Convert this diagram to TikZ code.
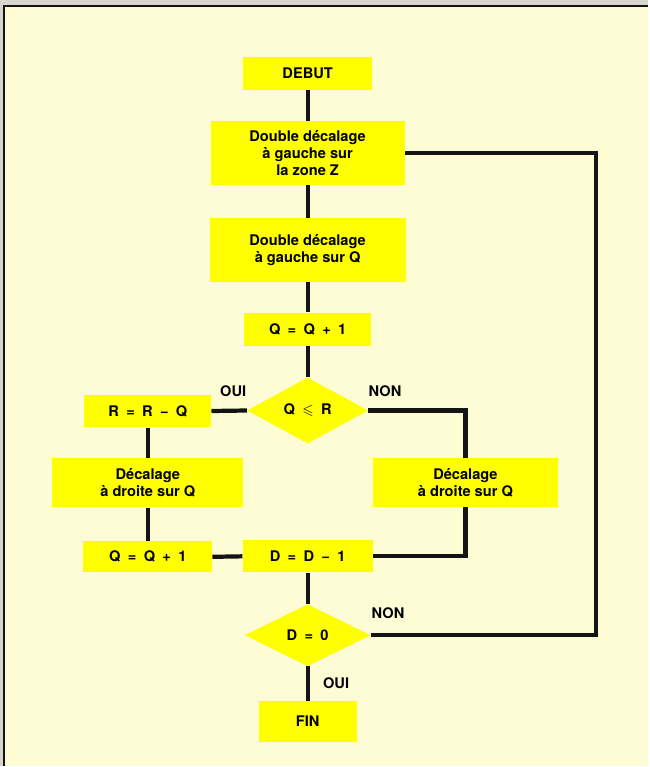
\documentclass[tikz,border=0pt]{standalone}
\usepackage{fontspec}
\setmainfont{TeX Gyre Heros}
\usepackage{amssymb}
\usetikzlibrary{shapes.geometric}
\definecolor{boxY}{HTML}{FFFF00}
\definecolor{paperBg}{HTML}{FEFCD4}
\definecolor{scanGray}{HTML}{D6D6CE}
\definecolor{inkK}{HTML}{141414}

\begin{document}
\begin{tikzpicture}[x=0.03cm, y=-0.03cm,
    font=\fontsize{12.5}{14.5}\selectfont\bfseries,
    box/.style={fill=boxY, align=center, inner sep=0pt},
    formula/.style={font={\fontsize{12.5}{14.5}\selectfont\bfseries\spaceskip 0.5em\relax}},
    decision/.style={diamond, fill=boxY, inner sep=0pt, aspect=1.8},
    flow/.style={draw=inkK, line width=3.6pt},
    lab/.style={inner sep=0pt}]

  % paper and the scanned frame edge (top and left only)
  \fill[scanGray] (0,0) rectangle (649,767);
  \fill[paperBg] (3,5) rectangle (649,767);
  \draw[inkK, line width=1.6pt] (4,767) -- (4,6) -- (649,6);

  % main column
  \node[box, minimum width=3.87cm, minimum height=0.99cm] (debut) at (308,73.5) {DEBUT};
  \node[box, minimum width=5.82cm, minimum height=1.92cm] (zoneZ) at (308,153)
    {Double décalage\\à gauche sur\\la zone Z};
  \node[box, minimum width=5.88cm, minimum height=1.92cm] (decQ) at (308,250)
    {Double décalage\\à gauche sur Q};
  \node[box, formula, minimum width=3.81cm, minimum height=0.99cm] (incQ) at (308,329.5) {Q = Q + 1};
  \node[decision, formula, minimum width=3.63cm, minimum height=1.98cm] (testQR) at (308,411)
    {Q $\leqslant$ R};

  % left branch (OUI)
  \node[box, formula, minimum width=3.81cm, minimum height=0.99cm] (subR) at (148,411.5) {R = R − Q};
  \node[box, minimum width=5.73cm, minimum height=1.47cm] (decL) at (148,483.5)
    {Décalage\\à droite sur Q};
  \node[box, formula, minimum width=3.87cm, minimum height=0.93cm] (incQb) at (148,557.5) {Q = Q + 1};

  % right branch (NON)
  \node[box, minimum width=5.55cm, minimum height=1.47cm] (decR) at (466,483)
    {Décalage\\à droite sur Q};

  \node[box, formula, minimum width=3.90cm, minimum height=0.96cm] (decD) at (308,557) {D = D − 1};
  \node[decision, formula, minimum width=3.78cm, minimum height=1.86cm] (testD) at (308,636) {D = 0};
  \node[box, minimum width=2.94cm, minimum height=1.23cm] (fin) at (308,722.5) {FIN};

  \coordinate (loopR) at (597,0);

  % connectors
  \draw[flow] (debut) -- (zoneZ);
  \draw[flow] (zoneZ) -- (decQ);
  \draw[flow] (decQ) -- (incQ);
  \draw[flow] (incQ) -- (testQR);
  \draw[flow] (testQR.west) -- (subR.east);
  \draw[flow] (testQR.east) -| (decR.north);
  \draw[flow] (subR) -- (decL);
  \draw[flow] (decL) -- (incQb);
  \draw[flow] (decD.west) -- (incQb.east);
  \draw[flow] (decR.south) |- (decD.east);
  \draw[flow] (decD) -- (testD);
  \draw[flow] (testD) -- (fin);
  \draw[flow] (testD.east) -- (loopR |- testD.east) -- (loopR |- zoneZ.east) -- (zoneZ.east);

  % branch labels
  \node[lab] (ouiA) at (233.5,392) {OUI};
  \node[lab] (nonA) at (385.5,392) {NON};
  \node[lab] (nonB) at (388.5,614) {NON};
  \node[lab] (ouiB) at (336.5,683.5) {OUI};

\end{tikzpicture}
\end{document}
